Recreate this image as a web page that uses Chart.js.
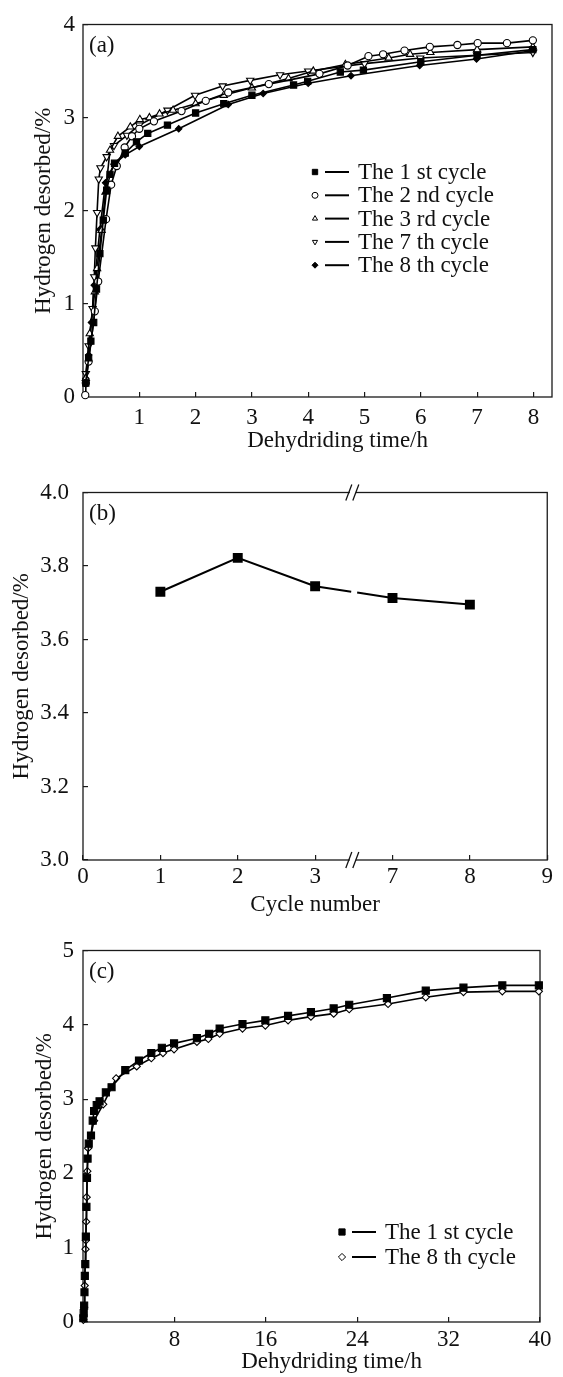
<!DOCTYPE html>
<html>
<head>
<meta charset="utf-8">
<script src="https://cdn.jsdelivr.net/npm/chart.js@4.4.0/dist/chart.umd.min.js"></script>
<style>
    body { margin: 0; background: #fff; }
    canvas { position: absolute; left: 0; }
</style>
</head>
<body>
<canvas id="chartA" width="563" height="462" style="top:0px"></canvas>
<canvas id="chartB" width="563" height="463" style="top:462px"></canvas>
<canvas id="chartC" width="563" height="452" style="top:925px"></canvas>
<script>
const FONT = "'Liberation Serif', 'Times New Roman', serif";

// (a) first 8 h, five cycles
const timeA1 = [0.05, 0.1, 0.14, 0.19, 0.24, 0.3, 0.36, 0.42, 0.48, 0.56, 0.75, 0.95, 1.15, 1.5, 2.0, 2.5, 3.0, 3.74, 3.99, 4.57, 4.98, 6.0, 7.0, 7.99];
const valA1 = [0.15, 0.42, 0.6, 0.8, 1.16, 1.54, 1.9, 2.22, 2.39, 2.51, 2.62, 2.74, 2.83, 2.92, 3.05, 3.15, 3.24, 3.35, 3.39, 3.49, 3.51, 3.6, 3.67, 3.73];
const timeA2 = [0.04, 0.05, 0.1, 0.21, 0.27, 0.41, 0.5, 0.6, 0.74, 0.87, 1.0, 1.26, 1.75, 2.18, 2.58, 3.3, 4.2, 4.7, 5.07, 5.33, 5.71, 6.16, 6.65, 7.01, 7.53, 7.99];
const valA2 = [0.02, 0.15, 0.38, 0.92, 1.24, 1.91, 2.28, 2.48, 2.68, 2.8, 2.88, 2.96, 3.07, 3.18, 3.27, 3.36, 3.47, 3.56, 3.66, 3.68, 3.72, 3.76, 3.78, 3.8, 3.8, 3.83];
const timeA3 = [0.05, 0.12, 0.21, 0.25, 0.33, 0.4, 0.48, 0.62, 0.84, 1.01, 1.18, 1.36, 1.6, 2.0, 2.5, 3.0, 3.65, 4.09, 4.66, 5.43, 5.81, 6.17, 7.0, 7.99];
const valA3 = [0.2, 0.68, 1.13, 1.38, 1.79, 2.2, 2.65, 2.8, 2.9, 2.98, 3.0, 3.04, 3.08, 3.15, 3.24, 3.32, 3.42, 3.5, 3.57, 3.64, 3.68, 3.7, 3.73, 3.76];
const timeA7 = [0.05, 0.1, 0.17, 0.2, 0.22, 0.25, 0.28, 0.31, 0.42, 0.55, 0.78, 1.0, 1.5, 1.99, 2.48, 2.97, 3.5, 4.0, 5.0, 5.99, 7.0, 7.99];
const valA7 = [0.25, 0.55, 0.95, 1.29, 1.6, 1.98, 2.34, 2.46, 2.58, 2.7, 2.81, 2.92, 3.08, 3.24, 3.34, 3.4, 3.46, 3.5, 3.58, 3.64, 3.67, 3.7];
const timeA8 = [0.05, 0.1, 0.15, 0.2, 0.3, 0.4, 0.55, 0.75, 1.0, 1.7, 2.58, 3.2, 4.0, 4.76, 5.98, 6.99, 8.0];
const valA8 = [0.2, 0.45, 0.8, 1.2, 1.8, 2.3, 2.5, 2.6, 2.69, 2.88, 3.14, 3.26, 3.37, 3.45, 3.56, 3.63, 3.72];

// (b) capacity after 8 h vs cycle number (broken axis)
const cycleTicks = ["0", "1", "2", "3", "7", "8", "9"];
const cycles = ["1", "2", "3", "7", "8"];
const capacity = [3.73, 3.822, 3.745, 3.713, 3.695];

// (c) 40 h, 1st and 8th cycle
const timeC1 = [0.03, 0.06, 0.1, 0.13, 0.16, 0.2, 0.25, 0.3, 0.35, 0.4, 0.5, 0.7, 0.85, 0.97, 1.2, 1.45, 2.0, 2.5, 3.7, 4.9, 5.98, 6.9, 7.97, 9.97, 11.04, 11.96, 13.96, 15.96, 17.95, 19.95, 21.94, 23.3, 26.6, 30.0, 33.3, 36.7, 39.9];
const valC1 = [0.05, 0.12, 0.22, 0.4, 0.62, 0.78, 1.15, 1.55, 1.94, 2.2, 2.4, 2.51, 2.71, 2.84, 2.92, 2.97, 3.09, 3.16, 3.39, 3.52, 3.62, 3.69, 3.75, 3.82, 3.88, 3.95, 4.01, 4.06, 4.12, 4.17, 4.22, 4.27, 4.36, 4.46, 4.5, 4.53, 4.53];
const timeC8 = [0.03, 0.1, 0.15, 0.22, 0.25, 0.28, 0.32, 0.38, 0.45, 0.97, 1.77, 2.9, 4.7, 5.98, 7.0, 7.97, 9.97, 10.97, 11.96, 13.96, 15.96, 17.95, 19.95, 21.94, 23.3, 26.7, 30.0, 33.3, 36.7, 39.9];
const valC8 = [0.03, 0.2, 0.49, 0.98, 1.1, 1.35, 1.68, 2.03, 2.34, 2.71, 2.93, 3.28, 3.44, 3.55, 3.62, 3.67, 3.77, 3.81, 3.88, 3.95, 3.99, 4.06, 4.11, 4.15, 4.21, 4.28, 4.37, 4.44, 4.45, 4.45];

function pts(xs, ys) {
    return xs.map((x, i) => ({ x: x, y: ys[i] }));
}

function series(label, data, style, fill, radius, rotation) {
    return {
        label: label,
        data: data,
        borderColor: "#000",
        borderWidth: 1.6,
        tension: 0,
        clip: false,
        pointStyle: style,
        pointRadius: radius,
        pointRotation: rotation || 0,
        pointBackgroundColor: fill,
        pointBorderColor: "#000",
        pointBorderWidth: 1.1
    };
}

// box around the plot plus the (a)/(b)/(c) tag
const frame = {
    id: "frame",
    beforeDatasetsDraw(chart, args, opts) {
        const ctx = chart.ctx;
        const a = chart.chartArea;
        ctx.save();
        ctx.strokeStyle = "#1a1a1a";
        ctx.lineWidth = 1.3;
        ctx.strokeRect(a.left, a.top, a.right - a.left, a.bottom - a.top);
        ctx.font = "23px " + FONT;
        ctx.fillStyle = "#111";
        ctx.textBaseline = "middle";
        ctx.fillText(opts.tag, a.left + 6, a.top + 21);
        ctx.restore();
    }
};

// marker, short line, text - drawn the way the paper does it
const markLegend = {
    id: "markLegend",
    afterDraw(chart, args, opts) {
        if (!opts.x) return;
        const ctx = chart.ctx;
        ctx.save();
        ctx.font = "23px " + FONT;
        ctx.textBaseline = "middle";
        chart.data.datasets.forEach((ds, i) => {
            const y = opts.y + i * opts.row;
            ctx.fillStyle = ds.pointBackgroundColor;
            ctx.strokeStyle = "#000";
            ctx.lineWidth = 1;
            Chart.helpers.drawPoint(ctx, {
                pointStyle: ds.pointStyle,
                radius: ds.pointStyle === "rect" ? opts.r + 0.8 : opts.r,
                rotation: ds.pointRotation,
                borderWidth: 1
            }, opts.x, y);
            ctx.lineWidth = 2;
            ctx.beginPath();
            ctx.moveTo(opts.x + 10, y);
            ctx.lineTo(opts.x + 34, y);
            ctx.stroke();
            ctx.fillStyle = "#111";
            ctx.fillText(ds.label, opts.x + 43, y + 1);
        });
        ctx.restore();
    }
};

// the "//" marks where the cycle axis is cut
const axisBreak = {
    id: "axisBreak",
    afterDraw(chart, args, opts) {
        if (!opts.from) return;
        const ctx = chart.ctx;
        const a = chart.chartArea;
        const sx = chart.scales.x;
        const cx = (sx.getPixelForValue(cycleTicks.indexOf(opts.from)) + sx.getPixelForValue(cycleTicks.indexOf(opts.to))) / 2;
        ctx.save();
        [a.top, a.bottom].forEach((yy) => {
            ctx.fillStyle = "#fff";
            ctx.fillRect(cx - 4, yy - 2, 6, 4);
            ctx.strokeStyle = "#111";
            ctx.lineWidth = 1.3;
            [-5, 2].forEach((d) => {
                ctx.beginPath();
                ctx.moveTo(cx + d - 3, yy + 8);
                ctx.lineTo(cx + d + 3, yy - 8);
                ctx.stroke();
            });
        });
        ctx.restore();
    }
};

function tickFont() {
    return { family: FONT, size: 23, lineHeight: 1 };
}

function titleFont() {
    return { family: FONT, size: 23, lineHeight: 1.2 };
}

function gridInside() {
    return { drawOnChartArea: false, drawTicks: true, tickLength: -5, color: "#1a1a1a", lineWidth: 1.2 };
}

function baseOptions(pad, xHeight, yWidth) {
    return {
        responsive: false,
        animation: false,
        devicePixelRatio: 1,
        layout: { padding: { top: pad, right: 11, left: 0, bottom: 0 } },
        plugins: {
            legend: { display: false },
            tooltip: { enabled: false }
        }
    };
}

Chart.register(frame, markLegend, axisBreak);

// ---- (a)
new Chart(document.getElementById("chartA"), {
    type: "line",
    data: {
        datasets: [
            series("The 1 st cycle", pts(timeA1, valA1), "rect", "#000", 4.4),
            series("The 2 nd cycle", pts(timeA2, valA2), "circle", "#fff", 3.6),
            series("The 3 rd cycle", pts(timeA3, valA3), "triangle", "#fff", 4.2),
            series("The 7 th cycle", pts(timeA7, valA7), "triangle", "#fff", 4.2, 180),
            series("The 8 th cycle", pts(timeA8, valA8), "rectRot", "#000", 3.2)
        ]
    },
    options: Object.assign(baseOptions(20), {
        scales: {
            x: {
                type: "linear", min: 0, max: 8.33,
                border: { display: false },
                grid: gridInside(),
                ticks: { stepSize: 1, includeBounds: false, padding: 14, color: "#111", font: tickFont(), maxRotation: 0,
                         callback: (v) => v === 0 ? "" : v },
                title: { display: true, text: "\u2002\u2002\u2002 Dehydriding time/h", color: "#111", font: titleFont(), padding: { top: 0, bottom: 7 } },
                afterFit: (s) => { s.height = 65; }
            },
            y: {
                min: 0, max: 4,
                border: { display: false },
                grid: gridInside(),
                ticks: { stepSize: 1, padding: 13, color: "#111", font: tickFont() },
                title: { display: true, text: "Hydrogen desorbed/%", color: "#111", font: titleFont(), padding: { top: 30, bottom: 0 } },
                afterFit: (s) => { s.width = 83; }
            }
        },
        plugins: {
            legend: { display: false },
            tooltip: { enabled: false },
            frame: { tag: "(a)" },
            markLegend: { x: 315, y: 172, row: 23.3, r: 3 },
            axisBreak: {}
        }
    })
});

// ---- (b)
new Chart(document.getElementById("chartB"), {
    type: "line",
    data: {
        labels: cycleTicks,
        datasets: [{
            label: "Hydrogen desorbed",
            data: pts(cycles, capacity),
            borderColor: "#000",
            borderWidth: 2,
            tension: 0,
            clip: false,
            pointStyle: "rect",
            pointRadius: 5.6,
            pointBackgroundColor: "#000",
            pointBorderColor: "#000",
            segment: {
                borderDash: (ctx) => ctx.p0DataIndex === 2 ? [36.5, 6] : undefined
            }
        }]
    },
    options: Object.assign(baseOptions(21), {
        scales: {
            x: {
                type: "category", offset: false,
                border: { display: false },
                grid: Object.assign(gridInside(), { offset: false }),
                ticks: { padding: 10, color: "#111", font: tickFont(), maxRotation: 0, autoSkip: false },
                title: { display: true, text: "Cycle number", color: "#111", font: titleFont(), padding: { top: 0, bottom: 6 } },
                afterFit: (s) => { s.height = 65; }
            },
            y: {
                min: 3.0, max: 4.0,
                border: { display: false },
                grid: gridInside(),
                ticks: { stepSize: 0.2, padding: 19, color: "#111", font: tickFont(), callback: (v) => v.toFixed(1) },
                title: { display: true, text: "Hydrogen desorbed/%", color: "#111", font: titleFont(), padding: { top: 8, bottom: 0 } },
                afterFit: (s) => { s.width = 83; }
            }
        },
        plugins: {
            legend: { display: false },
            tooltip: { enabled: false },
            frame: { tag: "(b)" },
            markLegend: {},
            axisBreak: { from: "3", to: "7" }
        }
    })
});

// ---- (c)
new Chart(document.getElementById("chartC"), {
    type: "line",
    data: {
        datasets: [
            series("The 1 st cycle", pts(timeC1, valC1), "rect", "#000", 5),
            series("The 8 th cycle", pts(timeC8, valC8), "rectRot", "#fff", 3.6)
        ]
    },
    options: Object.assign(baseOptions(19), {
        scales: {
            x: {
                type: "linear", min: 0, max: 40,
                border: { display: false },
                grid: gridInside(),
                ticks: { stepSize: 8, padding: 11.5, color: "#111", font: tickFont(), maxRotation: 0,
                         callback: (v) => v === 0 ? "" : v },
                title: { display: true, text: "\u2002\u2002\u2002 Dehydriding time/h", color: "#111", font: titleFont(), padding: { top: 0, bottom: 1.5 } },
                afterFit: (s) => { s.height = 55; }
            },
            y: {
                min: 0, max: 5,
                border: { display: false },
                grid: gridInside(),
                ticks: { stepSize: 1, padding: 14, color: "#111", font: tickFont() },
                title: { display: true, text: "Hydrogen desorbed/%", color: "#111", font: titleFont(), padding: { top: 31, bottom: 0 } },
                afterFit: (s) => { s.width = 83; }
            }
        },
        plugins: {
            legend: { display: false },
            tooltip: { enabled: false },
            frame: { tag: "(c)" },
            markLegend: { x: 342, y: 307, row: 25, r: 3.6 },
            axisBreak: {}
        }
    })
});
</script>
</body>
</html>
